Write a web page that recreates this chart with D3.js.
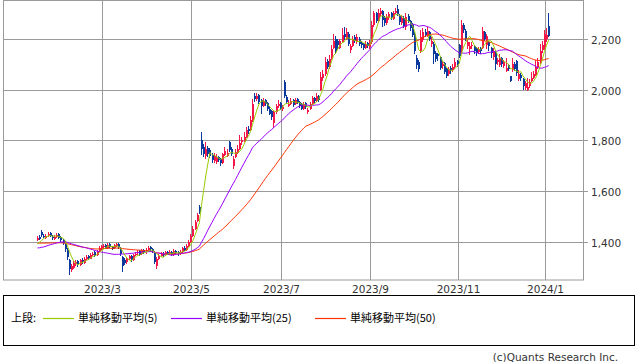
<!DOCTYPE html>
<html><head><meta charset="utf-8">
<script src="https://cdn.jsdelivr.net/npm/d3@7"></script>
<style>body{margin:0;background:#fff;} svg{display:block;}</style>
</head><body><svg id="c" width="638" height="362"></svg>
<script>
// ---- data ----
const startDate = "2023-01-16", endDate = "2024-01-05";
const holidays = ["2023-02-23","2023-03-21","2023-05-03","2023-05-04","2023-05-05","2023-07-17","2023-08-11","2023-09-18","2023-10-09","2023-11-03","2023-11-23","2024-01-01","2024-01-02","2024-01-03"];
const monthTicks = ["2023/3","2023/5","2023/7","2023/9","2023/11","2024/1"];
const priceTicks = [1400,1600,1800,2000,2200];
// closes before the visible window (used only for the moving averages)
const histCloses = [1405,1410,1420,1415,1425,1418,1410,1402,1408,1415,1422,1430,1425,1418,1412,1405,1410,1415,1420,1412,1408,1402,1410,1418,1420,
1395,1385,1372,1360,1355,1362,1358,1365,1370,1368,1372,
1375,1370,1378,1382,1376,1372,1380,1385,1378,1382,1390,1386,1392];
const opens = [1408,1420,1440,1425,1415,1426,1435,1420,1414,1420,1430,1420,
1408,1395,1370,1330,1290,1300,
1315,1325,1310,1330,1318,1332,1345,1335,1350,1360,1348,1365,1376,
1380,1388,1376,1392,1382,1375,1385,1392,1378,1340,1330,
1320,1335,1345,1330,1350,1356,1365,1352,1368,1360,1368,1380,1372,1360,1305,1332,
1345,1355,1350,1362,1355,1362,1350,1366,
1360,1352,1362,1378,1368,1385,1402,1425,1452,1482,1538,1800,
1772,1738,1770,1762,1742,1718,1714,1735,1725,1712,1742,1740,1792,1765,1700,1735,1752,1768,1792,1798,1815,1845,1840,
1880,1975,1962,1978,1958,1935,1958,1948,1925,1915,1868,1910,1935,1948,1922,2030,1972,1935,1945,1958,1942,1962,1952,1942,1925,1948,1910,1922,1945,1968,1955,1975,
2000,2045,2060,2112,2088,2125,2165,2200,2190,2165,2188,2220,2200,2220,2155,2172,2205,2185,2200,2182,2178,2165,2182,2168,
2185,2252,2300,2268,2298,2308,2280,2262,2285,2300,2278,2302,2318,2290,2262,2282,2245,2288,2268,2255,2220,2125,2110,
2150,2195,2228,2210,2225,2180,2180,2145,2140,2128,2092,2105,2080,2062,2085,2075,2088,2112,
2175,2150,2255,2230,2170,2158,2170,2172,2162,2148,2165,2165,2225,2175,2185,2165,2128,2145,2110,2098,2122,2092,2072,2095,2052,2075,2102,2112,2040,2058,2042,2005,2000,2012,2032,2045,2058,2088,2105,2155,2165,2200,2250];
const highs = [1424,1426,1447,1432,1430,1438,1440,1426,1428,1434,1436,1424,
1412,1398,1375,1334,1312,1325,
1330,1330,1335,1336,1340,1350,1350,1356,1362,1364,1370,1384,1390,
1392,1392,1396,1395,1386,1394,1398,1396,1380,1345,1338,
1340,1350,1348,1352,1362,1370,1368,1372,1372,1378,1384,1385,1376,1364,1342,1352,
1360,1360,1366,1366,1370,1366,1372,1370,
1364,1368,1382,1384,1392,1408,1432,1462,1486,1515,1545,1832,
1785,1792,1778,1770,1750,1752,1745,1740,1730,1752,1772,1768,1798,1772,1738,1765,1780,1820,1815,1832,1852,1855,1895,
1962,1988,1985,1982,1962,1968,1962,1952,1935,1920,1918,1945,1958,1952,1940,2036,1978,1958,1965,1962,1968,1966,1956,1948,1952,1952,1928,1952,1975,1972,1985,1980,
2068,2075,2128,2120,2135,2175,2220,2210,2198,2200,2240,2245,2240,2226,2180,2212,2215,2220,2206,2190,2182,2192,2188,2195,
2268,2310,2306,2318,2322,2312,2288,2295,2305,2306,2310,2322,2331,2296,2292,2288,2300,2295,2272,2262,2226,2135,2118,
2235,2242,2238,2245,2232,2205,2185,2150,2145,2132,2112,2110,2085,2090,2092,2100,2125,2118,
2180,2275,2262,2236,2198,2185,2186,2176,2166,2168,2168,2245,2232,2220,2190,2168,2165,2155,2125,2140,2128,2118,2125,2100,2055,2125,2110,2116,2075,2065,2046,2035,2045,2040,2070,2072,2115,2125,2180,2190,2235,2240,2300];
const lows = [1404,1408,1420,1415,1412,1422,1420,1410,1410,1418,1414,1402,
1390,1360,1330,1272,1282,1296,
1308,1302,1306,1315,1314,1328,1330,1332,1345,1342,1345,1360,1370,
1374,1372,1374,1376,1368,1372,1382,1374,1345,1282,1310,
1315,1330,1320,1326,1345,1350,1344,1348,1352,1355,1364,1366,1358,1312,1296,1328,
1340,1342,1346,1348,1350,1344,1346,1352,
1346,1348,1358,1364,1365,1380,1398,1420,1448,1478,1512,1742,
1735,1728,1736,1732,1712,1712,1708,1715,1700,1708,1738,1735,1755,1740,1688,1730,1748,1762,1780,1792,1810,1825,1835,
1872,1950,1955,1942,1905,1930,1935,1915,1898,1880,1850,1905,1928,1918,1915,1965,1942,1930,1940,1932,1938,1942,1928,1918,1920,1922,1902,1918,1940,1948,1950,1952,
1995,2035,2055,2080,2082,2118,2158,2140,2160,2160,2182,2195,2195,2172,2145,2168,2182,2178,2172,2165,2155,2160,2162,2160,
2180,2245,2262,2262,2290,2245,2250,2255,2275,2272,2272,2295,2288,2255,2255,2242,2235,2262,2232,2205,2140,2080,2068,
2145,2188,2205,2205,2192,2168,2102,2110,2112,2075,2080,2062,2045,2055,2062,2068,2082,2090,
2125,2145,2222,2190,2160,2136,2160,2138,2130,2140,2140,2160,2190,2160,2150,2125,2115,2078,2095,2090,2090,2085,2068,2072,2030,2070,2072,2055,2035,2035,2000,2000,1995,2005,2028,2040,2055,2080,2100,2145,2155,2185,2205];
const closes = [1418,1412,1428,1420,1425,1432,1424,1416,1422,1428,1418,1410,
1398,1372,1340,1295,1305,1318,
1322,1312,1328,1320,1335,1342,1336,1350,1355,1348,1365,1378,1384,
1386,1378,1390,1382,1374,1388,1392,1380,1352,1305,1318,
1332,1345,1328,1348,1355,1362,1350,1366,1358,1370,1378,1372,1365,1320,1335,1345,
1352,1348,1360,1355,1362,1350,1365,1358,
1355,1362,1375,1370,1385,1400,1425,1450,1478,1505,1520,1765,
1745,1765,1745,1740,1722,1740,1730,1722,1712,1745,1760,1752,1762,1748,1728,1755,1765,1790,1800,1815,1840,1835,1880,
1945,1962,1975,1950,1935,1955,1945,1925,1905,1890,1910,1935,1945,1925,1930,1975,1950,1945,1955,1940,1960,1950,1935,1925,1945,1930,1920,1945,1965,1955,1975,1960,
2050,2060,2110,2090,2120,2160,2190,2150,2175,2190,2215,2205,2225,2180,2170,2200,2190,2205,2180,2175,2165,2180,2170,2185,
2255,2300,2270,2300,2310,2275,2260,2285,2295,2280,2300,2310,2295,2265,2280,2250,2285,2270,2240,2215,2150,2095,2080,
2205,2225,2215,2230,2200,2190,2140,2120,2130,2085,2100,2070,2055,2080,2075,2090,2110,2100,
2130,2255,2235,2200,2185,2170,2175,2150,2145,2160,2150,2230,2200,2210,2170,2145,2150,2100,2115,2125,2100,2110,2085,2080,2035,2100,2080,2065,2060,2045,2015,2025,2010,2030,2045,2060,2090,2110,2150,2175,2220,2215,2210];
const maPeriods = [5,25,50];
const maLabels = ["単純移動平均(5)","単純移動平均(25)","単純移動平均(50)"];
const maColors = ["#99cc00","#9900ff","#ff3300"];

// ---- trading calendar ----
const parse = d3.timeParse("%Y-%m-%d"), fmt = d3.timeFormat("%Y-%m-%d");
const hol = new Set(holidays);
const dates = d3.timeDay.range(parse(startDate), d3.timeDay.offset(parse(endDate),1))
  .filter(d => d.getDay()!==0 && d.getDay()!==6 && !hol.has(fmt(d)));
const n = Math.min(dates.length, closes.length);

// ---- moving averages ----
const all = histCloses.concat(closes);
const H = histCloses.length;
const mas = maPeriods.map(p => d3.range(n).map(i => d3.mean(all.slice(H+i-p+1, H+i+1))));

// ---- layout ----
const svg = d3.select("#c");
const L = 3, R = 583, T = 0.5, B = 280;
const x = d3.scaleLinear().domain([-15.95, 256.37]).range([L, R]);
const y = d3.scaleLinear().domain([1251, 2350]).range([B, T]);
const grid = "#9a9a9a";

// horizontal grid + right axis
const gY = svg.append("g");
priceTicks.forEach(v => {
  const yy = Math.round(y(v)) + 0.5;
  gY.append("line").attr("x1", L).attr("x2", R + 5).attr("y1", yy).attr("y2", yy).attr("stroke", grid);
  gY.append("text").attr("x", 591).attr("y", yy + 4).text(d3.format(",")(v))
    .attr("font-family","DejaVu Sans").attr("font-size","10.5px").attr("fill","#333");
});
// vertical grid at month starts
const tickIdx = monthTicks.map(m => {
  const [yr, mo] = m.split("/").map(Number);
  return dates.findIndex(d => d.getFullYear()===yr && d.getMonth()===mo-1);
});
tickIdx.forEach((ti, k) => {
  const xx = Math.round(x(ti)) - 0.5;
  svg.append("line").attr("x1", xx).attr("x2", xx).attr("y1", T).attr("y2", B).attr("stroke", grid);
  svg.append("text").attr("x", xx).attr("y", 293).attr("text-anchor","middle").text(monthTicks[k])
    .attr("font-family","DejaVu Sans").attr("font-size","10.5px").attr("fill","#333");
});
// plot border
svg.append("rect").attr("x", L + 0.5).attr("y", T).attr("width", R - L).attr("height", B - T)
  .attr("fill","none").attr("stroke", grid);

// candles
const up = "#f5174a", down = "#0a3a9e";
const gc = svg.append("g").attr("shape-rendering","crispEdges");
d3.range(n).forEach(i => {
  const xc = Math.round(x(i));
  const col = closes[i] >= opens[i] ? up : down;
  gc.append("rect").attr("x", xc).attr("width", 1)
    .attr("y", y(highs[i])).attr("height", Math.max(1, y(lows[i]) - y(highs[i]))).attr("fill", col);
  const top = y(Math.max(opens[i], closes[i])), bot = y(Math.min(opens[i], closes[i]));
  gc.append("rect").attr("x", xc - 0.5).attr("width", 2)
    .attr("y", top).attr("height", Math.max(1, bot - top)).attr("fill", col);
});

// moving averages
const line = d3.line().x((d, i) => x(i) + 0.5).y(d => y(d));
[2,1,0].forEach(k => {
  svg.append("path").datum(mas[k]).attr("d", line).attr("fill","none")
    .attr("stroke", maColors[k]).attr("stroke-width", 1);
});

// legend
svg.append("rect").attr("x", 3.5).attr("y", 295.5).attr("width", 631).attr("height", 50)
  .attr("fill","none").attr("stroke","#000");
const lf = "'Noto Sans CJK JP', 'Noto Sans', sans-serif";
svg.append("text").attr("x", 11).attr("y", 322).text("上段:")
  .attr("font-family", lf).attr("font-size","11px").attr("fill","#000");
const legX = [43, 171, 315];
maLabels.forEach((lab, k) => {
  svg.append("line").attr("x1", legX[k]).attr("x2", legX[k] + 31).attr("y1", 318.5).attr("y2", 318.5)
    .attr("stroke", maColors[k]).attr("stroke-width", 1.2);
  svg.append("text").attr("x", legX[k] + 35).attr("y", 322).text(lab)
    .attr("font-family", lf).attr("font-size","11px").attr("fill","#000");
});
svg.append("text").attr("x", 618).attr("y", 361).attr("text-anchor","end").text("(c)Quants Research Inc.")
  .attr("font-family","DejaVu Sans").attr("font-size","10.5px").attr("fill","#333");
</script></body></html>
